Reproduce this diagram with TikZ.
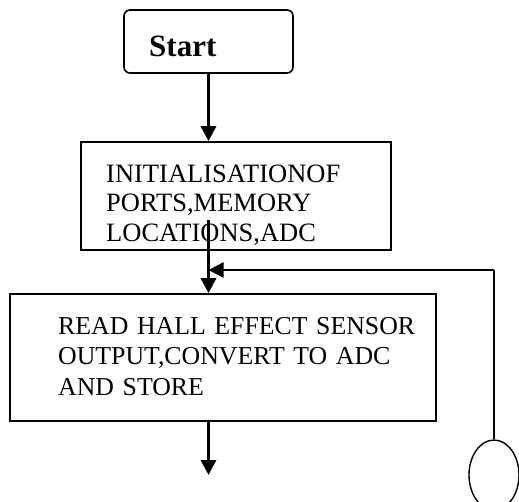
\documentclass[tikz,border=0pt]{standalone}
\usepackage{fontspec}
\setmainfont{Liberation Serif}
\usetikzlibrary{arrows.meta,shapes.geometric}

\begin{document}
\begin{tikzpicture}[x=1pt,y=-1pt,
  boxline/.style={draw=black,line width=1.6pt,inner sep=0pt},
  flow/.style={line width=3pt,-{Triangle[length=15pt,width=15pt]}},
  body/.style={anchor=base west,inner sep=0pt,align=left,text width=#1},
  body/.default=380pt]
\useasboundingbox (0,0) rectangle (519,501);
\clip (0,0) rectangle (519,501);
\fill[white] (0,0) rectangle (519,501);

% terminal block
\node[boxline,rectangle,rounded corners=6pt,
  minimum width=169pt,minimum height=63pt] (start) at (208.5,41.5) {};
\node[font=\bfseries\fontsize{31}{31}\selectfont,anchor=base west,inner sep=0pt]
  (starttext) at (149,56) {Start};

% initialisation block
\node[boxline,rectangle,minimum width=310pt,minimum height=108pt] (init) at (236,196) {};
\node[body=280pt,font=\fontsize{26.5}{29.5}\selectfont] (inittext) at (106,182)
  {INITIALISATIONOF\\PORTS,MEMORY\\LOCATIONS,ADC};

% sensor read block
\node[boxline,rectangle,minimum width=426pt,minimum height=127pt] (read) at (223,357.5) {};
\node[body,font=\fontsize{25.8}{30.8}\selectfont] (readtext) at (58,334)
  {READ HALL EFFECT SENSOR\\OUTPUT,CONVERT TO ADC\\AND STORE};

% connector circle of the loop
\node[draw=black,line width=1.4pt,ellipse,inner sep=0pt,
  minimum width=50pt,minimum height=70pt] (conn) at (494,475) {};

% main flow
\coordinate (tap) at (208.5,220);
\coordinate (endtip) at (208.5,475);
\coordinate (corner) at (494,270);
\draw[flow] (start.south) -- (start.south |- init.north);
\draw[flow] (tap) -- (tap |- read.north);
\draw[flow] (read.south -| endtip) -- (endtip);

% return path
\draw[line width=1.5pt] (conn.north) -- (corner);
\draw[line width=2.5pt,-{Triangle[length=15pt,width=15pt]}] (corner) -- (tap |- corner);
\end{tikzpicture}
\end{document}
